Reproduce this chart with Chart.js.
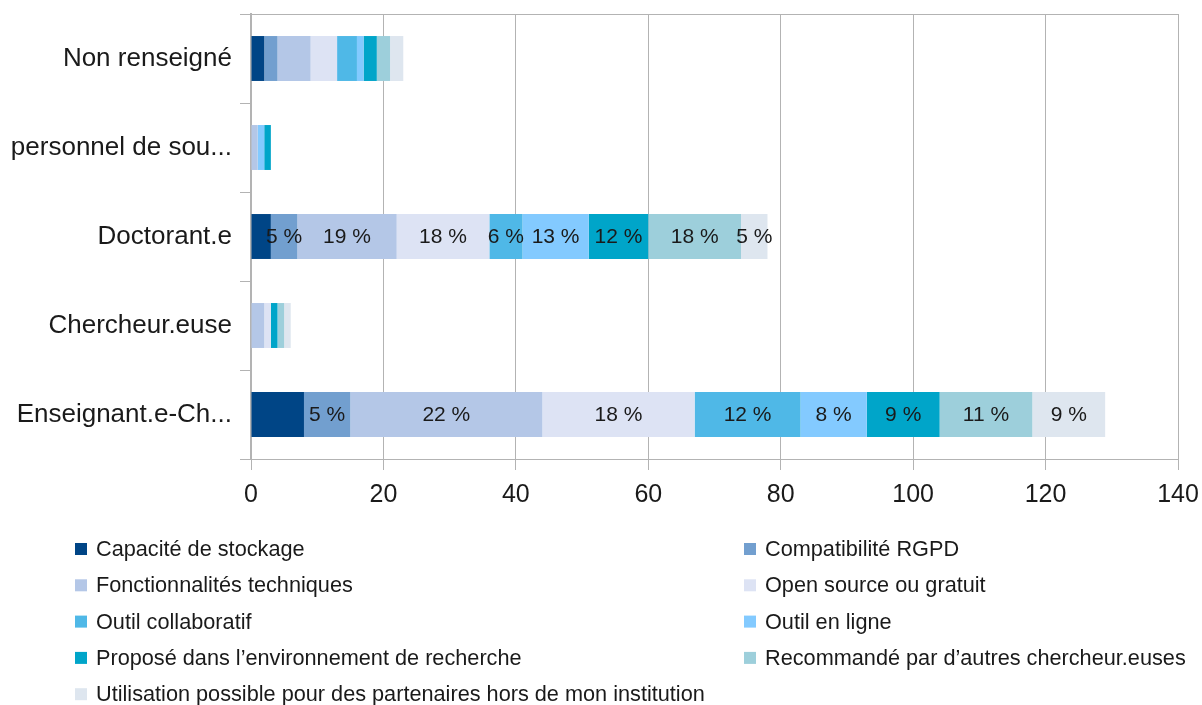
<!DOCTYPE html>
<html>
<head>
<meta charset="utf-8">
<script src="https://cdn.jsdelivr.net/npm/chart.js@4/dist/chart.umd.min.js"></script>
<style>
  html, body { margin: 0; padding: 0; background: #fff; }
  #wrap { width: 1202px; height: 705px; position: relative; }
</style>
</head>
<body>
<div id="wrap"><canvas id="myChart" width="1202" height="705"></canvas></div>
<script>
// catégories (axe vertical)
const categories = ['Non renseigné', 'personnel de sou...', 'Doctorant.e', 'Chercheur.euse', 'Enseignant.e-Ch...'];
// lignes qui affichent les pourcentages
const labelledRows = ['Doctorant.e', 'Enseignant.e-Ch...'];

// séries (une par critère)
const seriesNames = [
    'Capacité de stockage',
    'Compatibilité RGPD',
    'Fonctionnalités techniques',
    'Open source ou gratuit',
    'Outil collaboratif',
    'Outil en ligne',
    'Proposé dans l\u2019environnement de recherche',
    'Recommandé par d\u2019autres chercheur.euses',
    'Utilisation possible pour des partenaires hors de mon institution'
];
const capaciteStockage     = [2, 0, 3, 0, 8];
const compatibiliteRGPD    = [2, 0, 4, 0, 7];
const fonctionnalites      = [5, 1, 15, 2, 29];
const openSource           = [4, 0, 14, 1, 23];
const outilCollaboratif    = [3, 0, 5, 0, 16];
const outilEnLigne         = [1, 1, 10, 0, 10];
const proposeEnvironnement = [2, 1, 9, 1, 11];
const recommande           = [2, 0, 14, 1, 14];
const partenaires          = [2, 0, 4, 1, 11];

const seriesValues = [capaciteStockage, compatibiliteRGPD, fonctionnalites, openSource,
    outilCollaboratif, outilEnLigne, proposeEnvironnement, recommande, partenaires];

const xTicks = [0, 20, 40, 60, 80, 100, 120, 140];

const colors = ['#004586', '#729fcf', '#b4c7e7', '#dde3f4', '#4fb8e7', '#83caff', '#00a5c9', '#9dcfdb', '#dee6ef'];

const gridColor = '#b3b3b3';
const fontFamily = '"Liberation Sans", Arial, sans-serif';

// étiquettes de pourcentage dans les barres
const percentLabels = {
    id: 'percentLabels',
    afterDatasetsDraw(chart) {
        const ctx = chart.ctx;
        ctx.save();
        ctx.font = '21px ' + fontFamily;
        ctx.fillStyle = '#1a1a1a';
        ctx.textAlign = 'center';
        ctx.textBaseline = 'middle';
        chart.data.labels.forEach(function(cat, i) {
            if (!labelledRows.includes(cat)) return;
            let total = 0;
            chart.data.datasets.forEach(function(ds) { total += ds.data[i]; });
            chart.data.datasets.forEach(function(ds, d) {
                if (d === 0 || !ds.data[i]) return;
                const bar = chart.getDatasetMeta(d).data[i];
                const pct = Math.round(ds.data[i] / total * 100);
                const cx = (bar.x + bar.base) / 2;
                ctx.fillText(pct + ' %', cx, bar.y + 1);
            });
        });
        ctx.restore();
    }
};

// légende sur deux colonnes
const twoColLegend = {
    id: 'twoColLegend',
    afterDraw(chart) {
        const ctx = chart.ctx;
        ctx.save();
        ctx.font = '21.7px ' + fontFamily;
        ctx.textBaseline = 'middle';
        chart.data.datasets.forEach(function(ds, i) {
            const col = i % 2;
            const row = Math.floor(i / 2);
            const x = col === 0 ? 75 : 744;
            const y = 549 + row * 36.3;
            ctx.fillStyle = ds.backgroundColor;
            ctx.fillRect(x, y - 6, 12, 12);
            ctx.fillStyle = '#1a1a1a';
            ctx.fillText(ds.label, x + 21, y + 1);
        });
        ctx.restore();
    }
};

document.addEventListener('DOMContentLoaded', function() {
    const ctx = document.getElementById('myChart').getContext('2d');

    const datasets = seriesNames.map(function(name, i) {
        return {
            label: name,
            data: seriesValues[i],
            backgroundColor: colors[i],
            borderWidth: 0,
            barPercentage: 0.505,
            categoryPercentage: 1
        };
    });

    const myChart = new Chart(ctx, {
        type: 'bar',
        data: { labels: categories, datasets: datasets },
        options: {
            indexAxis: 'y',
            responsive: false,
            animation: false,
            layout: { padding: { top: 14, right: 24, bottom: 186, left: 0 } },
            plugins: {
                legend: { display: false },
                tooltip: { enabled: false }
            },
            scales: {
                x: {
                    stacked: true,
                    min: 0,
                    max: 140,
                    afterBuildTicks: function(axis) {
                        axis.ticks = xTicks.map(function(v) { return { value: v }; });
                    },
                    grid: {
                        color: gridColor,
                        lineWidth: 1,
                        tickLength: 11,
                        tickColor: gridColor
                    },
                    border: { display: true, color: gridColor, width: 1 },
                    ticks: {
                        color: '#1a1a1a',
                        padding: 10,
                        font: { family: fontFamily, size: 25 }
                    },
                    afterFit: function(axis) {
                        axis.height = 60;
                        axis.paddingLeft = 0;
                        axis.paddingRight = 0;
                    }
                },
                y: {
                    stacked: true,
                    grid: {
                        offset: true,
                        drawOnChartArea: true,
                        color: function(c) {
                            return (c.index === 0 || c.index === categories.length) ? gridColor : 'rgba(0,0,0,0)';
                        },
                        tickColor: gridColor,
                        tickLength: 11
                    },
                    border: { display: true, color: gridColor, width: 2 },
                    ticks: {
                        color: '#1a1a1a',
                        padding: 8,
                        font: { family: fontFamily, size: 26 }
                    },
                    afterFit: function(axis) {
                        axis.width = 251;
                        axis.paddingTop = 0;
                        axis.paddingBottom = 0;
                    }
                }
            }
        },
        plugins: [percentLabels, twoColLegend]
    });
});
</script>
</body>
</html>
